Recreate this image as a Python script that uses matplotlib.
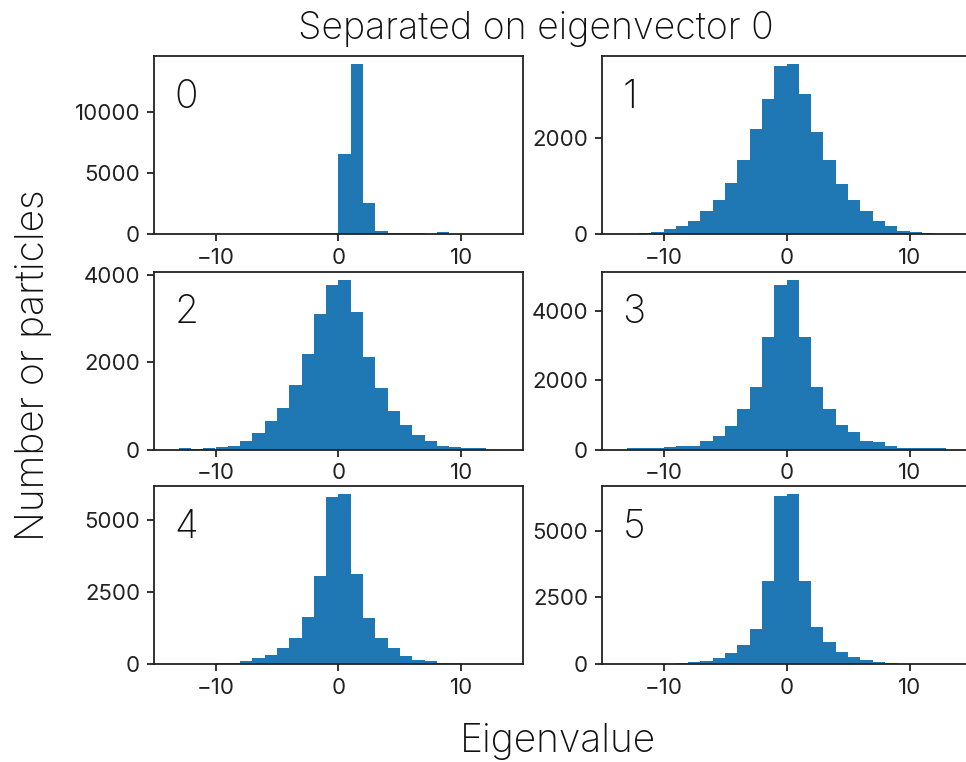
import numpy as np
import matplotlib
matplotlib.use("Agg")
import matplotlib.pyplot as plt

plt.rcParams["font.family"] = ["Inter", "DejaVu Sans"]

# Counts per unit-width eigenvalue bin, one histogram per eigenvector
panel_ids = ["0", "1", "2", "3", "4", "5"]
first_edge = [-8, -12, -13, -13, -10, -9]
counts = [
    [80, 80, 80, 80, 90, 90, 100, 110, 6580, 13920, 2550, 250, 110, 100, 100, 15, 140],
    [30, 40, 97, 172, 276, 476, 711, 1063, 1546, 2187, 2801, 3485, 3519, 2912, 2118,
     1546, 1028, 711, 476, 269, 172, 62, 48, 28],
    [23, 5, 23, 46, 91, 198, 381, 655, 953, 1471, 2195, 3101, 3780, 3894, 3147, 2134,
     1410, 884, 572, 343, 198, 76, 46, 23, 23],
    [29, 29, 29, 67, 115, 115, 258, 402, 689, 1168, 1818, 3254, 4766, 4909, 3254, 1818,
     1168, 718, 498, 258, 211, 115, 38, 38, 38, 29],
    [35, 35, 92, 196, 311, 542, 888, 1637, 3055, 5800, 5880, 3113, 1580, 888, 542, 265,
     138, 92, 46, 35],
    [38, 63, 100, 213, 413, 713, 1313, 3125, 6288, 6350, 3125, 1400, 838, 463, 275, 150,
     63, 38],
]
yticks = [
    [0, 5000, 10000],
    [0, 2000],
    [0, 2000, 4000],
    [0, 2000, 4000],
    [0, 2500, 5000],
    [0, 2500, 5000],
]
xticks = [-10, 0, 10]
xtick_labels = ["\u221210", "0", "10"]
xlim = (-15, 15)

W, H = 966, 762
fig = plt.figure(figsize=(W / 100, H / 100), dpi=100)

# axes boxes in pixels: left column / right column, three rows
col_left = [154, 602]
row_top = [56, 271.5, 486]
ax_w, ax_h = 369, 178

big = dict(fontsize=28, fontweight="light", color="#111111")

for i, pid in enumerate(panel_ids):
    r, c = divmod(i, 2)
    left = col_left[c] / W
    bottom = 1 - (row_top[r] + ax_h) / H
    ax = fig.add_axes([left, bottom, ax_w / W, ax_h / H])

    edges = np.arange(first_edge[i], first_edge[i] + len(counts[i]) + 1)
    ax.hist(edges[:-1], bins=edges, weights=counts[i], color="#1f77b4")

    ax.set_xlim(*xlim)
    ax.set_xticks(xticks)
    ax.set_xticklabels(xtick_labels)
    ax.set_yticks(yticks[i])
    ax.tick_params(labelsize=16, length=5, width=1.3, pad=5, colors="#222222",
                   labelcolor="#222222")
    for sp in ax.spines.values():
        sp.set_linewidth(1.3)
        sp.set_color("#222222")

    ax.text(0.055, 0.71, pid, transform=ax.transAxes, ha="left", va="baseline",
            **big)

fig.text(536 / W, 1 - 39 / H, "Separated on eigenvector 0", ha="center",
         va="baseline", **{**big, "fontsize": 27})
fig.text(558 / W, 1 - 752 / H, "Eigenvalue", ha="center", va="baseline", **big)
fig.text(34 / W, 1 - 365 / H, "Number or particles", rotation=90,
         ha="center", va="center", **big)

fig.savefig("out.png", dpi=100)
